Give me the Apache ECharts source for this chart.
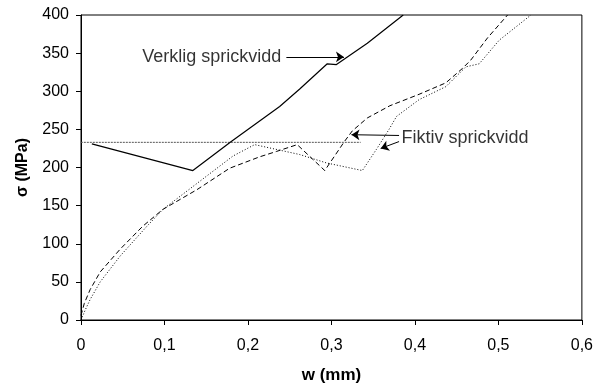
<!DOCTYPE html>
<html>
<head>
<meta charset="utf-8">
<script src="https://cdn.jsdelivr.net/npm/echarts@6/dist/echarts.min.js"></script>
<style>html,body{margin:0;padding:0;background:#fff}#c{width:596px;height:389px}</style>
</head>
<body>
<div id="c"></div>
<script>
// Verklig sprickvidd (solid)
const verkligW = [0.013, 0.134, 0.18, 0.238, 0.262, 0.295, 0.306, 0.343, 0.386];
const verkligS = [231, 196, 234, 280, 303, 336, 335, 363, 400];
// Fiktiv, dashed curve
const dashW = [0, 0.004, 0.011, 0.023, 0.047, 0.074, 0.098, 0.139, 0.178, 0.214, 0.234, 0.259, 0.292, 0.3155, 0.325, 0.343, 0.37, 0.405, 0.437, 0.457, 0.467, 0.487, 0.511];
const dashS = [6, 22, 40, 63, 93, 123, 145, 171, 199, 214, 221, 230, 196, 234, 248, 265, 281, 296, 311, 330, 341, 370, 400];
// Fiktiv, dotted curve
const dotW = [0, 0.005, 0.011, 0.023, 0.047, 0.079, 0.098, 0.14, 0.182, 0.208, 0.262, 0.294, 0.337, 0.354, 0.369, 0.378, 0.405, 0.437, 0.461, 0.477, 0.501, 0.539];
const dotS = [0, 13, 27, 50, 84, 123, 145, 180, 215, 230, 217, 206, 196, 224, 250, 267, 289, 306, 332, 336, 367, 400];
// horizontal reference line
const refW = [-0.011, 0.335];
const refS = [233, 233];
// annotations
const labelVerklig = 'Verklig sprickvidd';
const labelFiktiv = 'Fiktiv sprickvidd';
const verkligTextPos = [0.240, 345];
const fiktivTextPos = [0.384, 239];
const arrows = [
  [[0.246, 345], [0.315, 345]],
  [[0.381, 242], [0.324, 243]],
  [[0.381, 234], [0.359, 225]]
];
const xTicks = [0, 0.1, 0.2, 0.3, 0.4, 0.5, 0.6];
const yTicks = [0, 50, 100, 150, 200, 250, 300, 350, 400];

const zip = (a, b) => a.map((v, i) => [v, b[i]]);
const FONT = '"Liberation Sans", Arial, sans-serif';

const chart = echarts.init(document.getElementById('c'), null, {renderer: 'canvas'});
chart.setOption({
  animation: false,
  backgroundColor: '#fff',
  textStyle: {fontFamily: FONT, color: '#000'},
  grid: {left: 81, right: 13, top: 15, bottom: 68, show: true, borderColor: '#000', borderWidth: 1, containLabel: false},
  xAxis: {
    type: 'value', min: xTicks[0], max: xTicks[xTicks.length - 1], interval: 0.1,
    name: 'w (mm)', nameLocation: 'middle', nameGap: 47,
    nameTextStyle: {fontFamily: FONT, fontWeight: 'bold', fontSize: 17, color: '#000'},
    axisLine: {lineStyle: {color: '#000', width: 1}},
    axisTick: {show: true, inside: false, length: 5, lineStyle: {color: '#000'}},
    axisLabel: {fontFamily: FONT, fontSize: 16, color: '#000', margin: 18,
      formatter: v => (v === 0 ? '0' : String(Math.round(v * 10) / 10).replace('.', ','))},
    splitLine: {show: false}
  },
  yAxis: {
    type: 'value', min: yTicks[0], max: yTicks[yTicks.length - 1], interval: 50,
    name: 'σ (MPa)', nameLocation: 'middle', nameGap: 50, nameRotate: 90,
    nameTextStyle: {fontFamily: FONT, fontWeight: 'bold', fontSize: 16, color: '#000'},
    axisLine: {show: true, lineStyle: {color: '#000', width: 1}},
    axisTick: {show: true, inside: false, length: 5, lineStyle: {color: '#000'}},
    axisLabel: {fontFamily: FONT, fontSize: 16, color: '#000', margin: 12},
    splitLine: {show: false}
  },
  series: [
    {
      type: 'line', data: zip(refW, refS), symbol: 'none', clip: false, silent: true,
      lineStyle: {color: '#555', width: 1, type: [2, 1]}
    },
    {
      type: 'line', data: zip(verkligW, verkligS), symbol: 'none', clip: true,
      lineStyle: {color: '#000', width: 1.2, type: 'solid'}
    },
    {
      type: 'line', data: zip(dashW, dashS), symbol: 'none', clip: true,
      lineStyle: {color: '#000', width: 1, type: [5, 3]}
    },
    {
      type: 'line', data: zip(dotW, dotS), symbol: 'none', clip: true,
      lineStyle: {color: '#000', width: 1, type: [1, 2]}
    },
    {
      type: 'line', data: [], symbol: 'none', silent: true,
      markLine: {
        silent: true, symbol: ['none', 'arrow'], symbolSize: 8, animation: false,
        label: {show: false},
        lineStyle: {color: '#000', width: 1, type: 'solid'},
        emphasis: {disabled: true},
        data: arrows.map(a => [{coord: a[0]}, {coord: a[1]}])
      }
    },
    {
      type: 'scatter', symbolSize: 0, silent: true,
      data: [{value: verkligTextPos, label: {position: 'left', formatter: labelVerklig}},
             {value: fiktivTextPos, label: {position: 'right', formatter: labelFiktiv}}],
      label: {show: true, distance: 0, fontFamily: FONT, fontSize: 18, color: '#000'}
    }
  ]
});
</script>
</body>
</html>
